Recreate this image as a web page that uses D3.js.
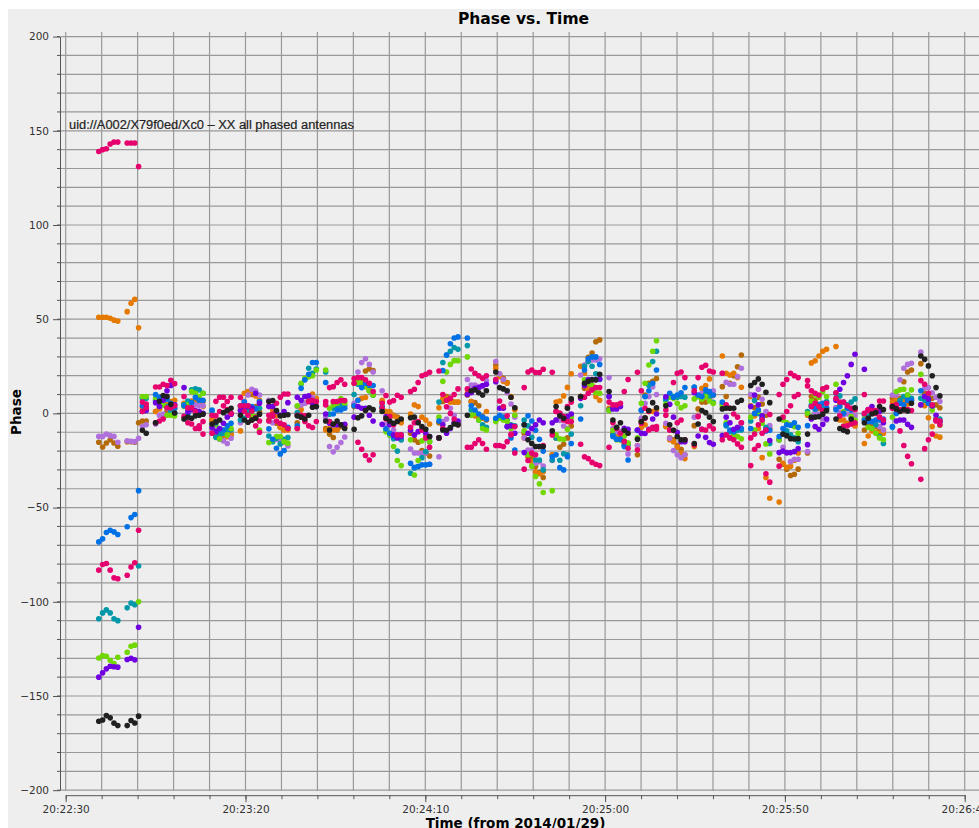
<!DOCTYPE html>
<html>
<head>
<meta charset="utf-8">
<script src="https://cdn.jsdelivr.net/npm/d3@7"></script>
<style>
  body { margin: 0; background: #fff; overflow: hidden; }
  text { font-family: "DejaVu Sans", sans-serif; }
</style>
</head>
<body>
<div id="container"></div>
<script>
/* CONSTANTS AND GLOBALS */
const width = 979, height = 828

// seconds after 20:22:30 for the start of each block of 6 samples
const blockStarts = [9.2, 17.1, 25, 32.9, 40.7, 48.6, 56.5, 64.4, 72.3, 80.2, 88, 95.9, 103.8, 111.7, 119.6,
  127.5, 135.3, 143.2, 151.1, 159, 166.9, 174.8, 182.6, 190.5, 198.4, 206.3, 214.2, 222.1, 229.9, 237.8]
const sampleOffsets = [0, 1.07, 2.11, 3.17, 4.23, 5.29]

const brown = [-15.3,-17.8,-15.7,-14,-15.7,-17.4, -15,-15.1,-15.3,-5,-4,-4, 1,2.7,7,1,2,2.7, 5,4.8,6.3,6.6,5.4,6.3, -3.5,-12.3,-13.5,-11.6,-12.3,-11.4,
  1.8,6.3,1.8,10,3.6,1, -3.5,0,-5.2,-7.4,-8.8,-8.4, -5,-1,5.4,7,8,6.3, -8,-11,-12.8,-8.8,-7,-6, 3.6,16,15,22.5,23.6,22.7,
  6,1,0.6,-1,-2,-3.5, -10.5,-14,-15.3,-19.7,-21,-22.6, -5,6.3,9,8,6,6, 9.8,6.3,5.7,4,-1.7,-3.5, 25.7,20.8,18.6,16.4,8.6,2.7,
  -10.5,-23,-23,-28,-31.4,-34, -22,-13,-18,-16.4,-13,-6.7, 9,13.3,29.8,32,38,39, 2,-11,-12,-13,-15,-16, -22,-4.3,9.8,16,17,18.5,
  -7,-13,-14,-17,-19,-22, -6.5,2.4,6,6,9,9.8, 14.2,9,16,20,24.8,31, 4,3,8.6,5,-1,-8, -24.3,-27,-29.6,-33,-32.3,-29.6,
  -21,9,6.8,2.7,2,2.7, 3,-1,-6.7,-5.2,-5.2,-6, -8.8,-6,-6,-7,-8,-8.8, 8,7,8,16.8,22,23, 26.4,10.7,9,8,4.5,3]

const orange = [51,51,51,50.5,49.5,49, 54,58.5,60.5,45.5,3,3, 1,2.4,5.4,4.5,6.3,7, 5.4,4.5,6.6,5.4,5,3.6, -3.5,-11,-11,-11,-12.3,-11,
  -9.3,10.7,11.6,11.6,9.3,7, 4,2,-1,-7.4,-8.8,-8.8, -8,2,5.4,7,10.3,8, -8.8,-8,-8.8,-8.4,-6,-7, 4.5,7,8,8.4,12.5,9.8,
  7,1,1,-1.3,-2.6,-5, -0.3,4.5,3.6,-2,-3.5,-5.6, 3,7.7,8,6,6,6, 10.7,6.3,-1.3,-2.6,-2.6,1, 24,19.5,17,16,9,2,
  -13,-20,-25.6,-31,-32,-31, -22,6,6.6,9.3,13.8,21, 25,21.3,13.3,12.5,9,7, 2.7,-10.5,-11.4,-14,-16.7,-16, -17,-7.5,-6,1,1,2,
  -6.7,-14,-15,-18,-21,-24, -17.6,-1,13.3,14.8,18.3,10, 30.5,21.3,20.4,21.3,19,13.9, 9,-1.3,-8,-23.5,-34,-45, -47,-26.5,-28.6,-28,-25,-21,
  -1,26.8,27.9,30.5,33,34, 35.5,-3.5,-3.5,-5.6,-5.2,-6.7, -16,-12,-9.3,-10,-10.5,-10.5, 6,8,5.4,6.3,5,7, 4.5,4,-2.3,-7,-12,-12.6]

const lavender = [-12.2,-12.2,-11,-11.8,-12.2,-15.3, -14.6,-14.8,-15,-13.2,-7,-6, -5.6,-1,-0.4,2.7,1,4.5, 4.5,2.7,4,4.5,4,4, -9.7,-8.8,-13.7,-14.6,-16,-13.2,
  -5,6.3,9.8,12.8,12,9.8, 7,-5,-13.7,-14,-15.5,-17.3, 3.6,4.5,5.4,6.3,8.6,6.3, -2,-17.6,-20.4,-18,-15.5,-12.5, 5.4,22,27,29,26,22,
  12,-6,-5.2,-8.8,-11.4,-14, -18.9,-21,-21,-21,-21,-27, -23,-4.3,-3,2.7,-1,-5, 18,15,15,14.2,14.2,17.4, 27.5,21,18,11,5,-2,
  -13,-19.4,-19.4,-26.5,-25.6,-28, -25,-3.5,-3.8,-6.7,-8,-2, 20.4,25.7,27.5,28.4,28.4,29, 19,-8,-9.7,-9.7,-12,-21.5, -17,-2.6,5.4,9,14.2,10,
  -5.2,-13.2,-19.7,-22,-23.5,-22, -2,-1.3,10.7,10.3,7,12, 21.3,16.5,15.5,15.5,19.5,24, 10,9,12.8,7.5,1,-6.5, -14,-18,-21,-25.6,-24.3,-24.3,
  -20.3,-2.6,0.4,-0.3,-2.6,-3.5, 3,0.4,-0.7,-0.3,-0.3,-1.3, -0.7,-2.6,-4.3,-6,-7,-8.8, 9.8,9.8,17.8,24,26,26.6, 32.5,13.3,13.7,11,8.6,6.3]

const teal = [-109,-105.9,-104.3,-105.9,-109,-110, -103.2,-100.7,-101.6,-81,8,8, 7,4.8,4.5,3.6,1,0.2, 4.5,6.6,12.5,13,12.5,10.7, 1,-12.7,-11.4,-10.5,-9,-8.8,
  -3.5,-2.6,1,1.8,2.7,2.7, -12,-15,-13.2,-16.2,-13.7,-12.8, 0.4,15.6,18,24,21.3,23.6, 22,-0.4,2.7,3.6,4,4, 10,15.5,16,14.6,12,9.8,
  3.6,-9,-11.4,-13.4,-20,-14, -31.8,-29,-28.2,-23.5,-20.3,-15, 6,27,31,33,35,34, 36,1.8,1,-3.5,-6,-7.4, -3.5,-1.7,-3,-3.5,-6,-6.6,
  -3.5,-6.6,-12.7,-24.7,-24.7,-30, -24.7,-13,-24.9,-21.4,-22,-11, 4,25,27.5,25,21,18, 1.8,-11.4,-13.7,-14,-16.7,-16.7, -9,1.8,9,15,27.5,33,
  7,9.8,9,8.6,9,8.6, 14,9,8,10,9,5.7, 5,-6.6,-9.7,-10.5,-9,-8.8, -4,6.8,0,-2,-7.4,-16, -14,-11,-9.3,-11.4,-13,-15,
  1,4.5,2.2,3.6,2.7,6.3, 10.7,9.3,6,4.5,6,7.7, -0.3,-1.7,-4.3,-6,-12.3,-16, -7.4,2.7,7,9,9.8,8, 8,7,6,3.6,-3,-3]

const green = [-129.8,-128.5,-128.9,-131,-132.8,-129.4, -126.8,-123.6,-123,-100,9,9, 8,6.8,4.5,-1,-1,-1.3, 3.6,4.5,11.6,10.7,9,10.7, -7.4,-6,-13.5,-8.8,-11.4,-8,
  3.6,1,3.6,-1.3,-1.7,-8.8, -15.5,-14,-12.3,-12.3,-15,-15.8, 4,16,18.6,19.5,20,23, 23,2.7,4.5,5.4,7.9,5.4, 16,16.4,16.4,14.2,12,9.8,
  1.8,-9.7,-11.4,-17.6,-25,-27.7, -14,-32.7,-25,-14.6,-12,-15, -2,17,22,26,28,28, 30,-1,0,-3.5,-8,-8.8, -4.3,-2.6,-3.5,-4.3,-8,-1,
  -9.3,-22,-28,-33.5,-37.4,-42, -41,-11.4,-13.5,-13.7,-8.4,-2, 9,17.8,16,15,11,10.7, 1.5,-9,-14,-14,-12,-15.8, -13,5.4,16,25.7,33,38.6,
  5,8.6,8,5.4,3,4, 7.7,9,7.5,9,6.6,5.4, 4,-5,-13,-11.4,-12.3,-13.5, -2,-8.8,1,-5.2,-16.2,-21.5, -14,-3.5,-5,-6,-7,-10.5,
  0,6.6,9.8,8.6,11.6,9, 15.5,4.5,1,2.7,-1.7,-3.5, -3,-7.4,-8,-10.5,-13,-14, -2,11.6,12.5,12.8,9.8,12.5, 20.8,9,8,1.8,-3,-6.3]

const blue = [-68.2,-66.6,-63.2,-62,-62.9,-64.3, -60.2,-55.3,-53.7,-41,4,3, 10,8.5,7.5,7.5,5.4,2.7, 4,-0.4,5.7,8.5,7,7, 1.8,-5,-9,-8.8,-6.6,-5.2,
  4,6,4,3.6,2.4,6.3, -8.2,-13.7,-18.5,-21.5,-19.7,-7.4, -6.6,13.3,17.8,20.8,27,27, 16.4,-4.3,-0.3,1.8,1.8,2.7, 4,7,13.7,16,15,14.8,
  3,-8.2,-10.5,-12.3,-12.3,-11.4, -26.5,-28.6,-28.2,-27.3,-27.3,-27, -4,22.7,31,37,40,40.6, 40,4,1.8,-0.3,-2,-3, -2.6,-1,-2,-7,-13,-19.4,
  -6,-1.3,-4,-9,-13.7,-20, -23,-22,-28.8,-30,-23,-16, -3,23,29,30,30,26, 9,-12.3,-13.7,-13.7,-17.6,-24.7, -9,1.5,9,12,16,23,
  8,10.7,8.6,9.8,11,13.7, 13.9,9.8,9,12.5,11.6,9.8, 6,-6,-8.8,-9.7,-8,-8, -8,0,1.8,-3,-9.3,-9, -12.3,-8,-6,-6.3,-5,-7.4,
  -6.5,3.6,2.7,4.8,5.4,3, 2,3.6,0,2.7,1.8,2.7, -3.5,-4.3,-4.3,-3.5,-3.5,-3, -7,0,5.4,4.5,7,7, 12,9,5.4,4,-3.5,-4.3]

const violet = [-140,-137.7,-135.6,-134.2,-134.5,-134.7, -130.6,-130,-130.8,-113.5,1,1.6, 5.7,3.6,7,12,14.8,4.5, 13.7,1,2,1.5,1,0, -7.5,-9.7,-8,-5.2,-2,-0.4,
  1.5,2.7,3.6,2.7,10.7,5.4, 3.6,3.6,1,-1,1,5.7, 8.6,7,9,9.3,5.4,3.6, -0.3,-5.2,-6,-6,-6,-5.8, -2,3.6,2.7,2.7,-1,-4,
  -5.8,-1.7,-6,-11.4,-13,-12.3, -9,-11.4,-9.7,-8.8,-10.5,-12.3, -13,-6,-10.5,-8,-5,-4, 10,11,13.3,13.7,14.8,15.5, 16.8,2.7,2.7,-7,-6.6,-10.5,
  -20.8,-10.5,-8,-6,-3.5,-5, -5,-3.5,-1,-2.3,-1.7,-0.3, 8,14.8,18,18,18,18.3, 9,2.4,2.4,3.6,-7.9,-8.4, -8.8,-10.5,-10.7,-8.4,-3,-0.3,
  8.8,4.8,-2,-10,-15,-15, 11,-12,-8.4,-12.7,-15.5,-16.4, -11.8,-2,-5,-8.4,-7.4,-5, 3.6,9.8,4.5,-1.3,-9,-14.4, -20.8,-20,-20.8,-20.8,-20.3,-18.7,
  -16.6,-3,-7,-8.4,-5.8,-3, 7,12.8,16.4,20,26,31.4, 23.4,2,3.6,1,1,-5, 3,-4,-3.5,-3.5,-5.8,-7.4, 4.5,9,7.7,4,-1,-4.3]

const pinkA = [139,140,140.5,143,144,144, 143.5,143.5,143.5,131,6,5, 14,14,15.5,14.8,17.6,15.8, 9,-5,-5.6,-8,-8,-11, -1,6.4,8.6,8.6,6.3,8.6,
  8.4,4,4,1.3,-2.2,-10, -1,-0.5,5.4,8.6,10.3,10.3, -1,-1,-1.3,6.3,7,6.3, 6.3,13.7,14.2,16.4,17.8,15.5, 18.5,19,19,17.8,16,11.6,
  5.4,9.5,6,6.8,9.6,8.6, 11.6,12.8,16.4,20,20.8,21.8, 22.5,10,7,8,10,13, 13,23.6,21.3,20,18.6,20, 18,6.6,3.6,-1.3,-11.4,-7,
  13.7,22,23,21.7,21.7,23.4, 21.8,1,0,-1.7,3.6,6, 9,8.6,10.7,12.5,13.7,13.7, 6,4.5,4.5,5.4,11.6,18, 21.8,12,2.7,1,-7.4,-8.4,
  1.8,-8.8,16.4,21.3,22,19, 12,19,24.5,25.5,22.5,22, 21.3,4.5,2.7,-0.3,-2,-5, -13,-19,-17,-3.5,-8.8,-0.6, 10,15.5,18,21.3,20,19,
  17.4,12,10.7,9.8,13,13.9, 11,6,6,4,2.7,2, 10,2,1,1.5,6.6,6.6, 4,2.4,-9.3,-17,-22.8,-26.7, 17.4,15.5,10.7,4.5,-3.5,-4]

const pinkB = [-83.2,-80.2,-79.7,-83.2,-87.3,-87.8, -85.9,-81.5,-79.3,-62,1,3, -5,-4,-3,3,3,4, -1.5,3,3,1,-6.6,-4.3, -10.5,-1.3,1,4,2,0,
  4,1,-1,-3.5,-6.6,-4, -4,-1.5,-4,-5.2,-6,-8, -8,-2,-4.3,-6.6,-7.5,-4.3, 4.5,-4.3,6.3,6.3,6.8,6.8, 16,-15.3,-19,-22.4,-24.7,-22,
  2.7,-3,-1.7,-6,-11.4,-11.4, -7.4,-5,-4.3,-8.8,-13,-18, -13,-8,3.5,0,-3,-6, -18,-18,-16,-14,-16,-19, -17,-17,-17.6,-15,-11,-21,
  -29.6,-25,-21,-22,-17.6,-17, -11.4,1,0,-3.5,-4.3,-4.3, -16.4,-23,-24,-26,-27,-27.7, -18,-5,-8,-10.5,-15,-18.5, -19.4,-5.2,-2.6,-8.8,-8,-7,
  -1,-8.8,-9,-5,-3.5,-14, -16.7,-1.7,-8.4,-8.8,-6.6,-8.2, -14,-11.4,-13,-14,-16.2,-18, -27.7,-11,-6,-10.5,-32,-36.5, -28,-2,1,4,9,10,
  14.6,3.6,5.4,3.6,1.5,5.4, 8,-1.3,-7,-6.6,-5.6,-5, 0,1.5,1.5,0,-2,-3.5, 2.7,4.5,2,2,2,1.5, -35,-18.7,-14,-11,-4,-6]

const black = [-163.4,-162.7,-160.4,-161.6,-164.4,-165.7, -165.7,-163,-164.3,-160.7,-9,-10.5, -5,6.4,9.5,9,4.8,0.2, -3,-2,-2.6,-1.3,-1,-0.4, -5.6,-4.5,-3.5,0.4,1.5,2.7,
  -1,-3.5,-4.7,-3.5,-2.6,-0.4, 6.3,6.8,1.5,-1.3,-1,-0.7, -1.3,-2,-3,-1,3.3,3.6, -4,-8.8,-5.6,-4,-6,-8, -8.4,-2.3,-1.3,1.5,3,2,
  1,-2.6,-4,-5.2,-4.3,-3, -2.3,-2,-5,-7,-8.4,-12.3, -13,-8.8,-9,-7.5,-5.6,-6, -1,12,12.5,11,9.8,12, 22,13.7,13,12,8.6,3,
  -6,-14,-16,-17.6,-17.6,-17.6, -9.3,3.6,-1.3,-2.6,2.7,7.7, 9,16,17,17.8,17.8,20.8, 11.6,-3.5,-7.4,-5,-9,-10.5, -13.7,-4.3,-2.3,1.5,5.7,3,
  4,-6,-9,-12.3,-14,-14, -16,-5.6,1.5,0.4,-2,-4.3, 2.4,2.7,2.7,2.7,6,7, 14.8,16.4,18.3,15.5,11.2,5.7, -3,-11,-11.8,-13.4,-13.6,-13.4,
  -11,-2,-2,-1.7,-0.4,1.5, -3,-8,-9,-9.7,-3,3, -5,-2.6,-0.3,0.5,3.6,2, 3.6,2.4,1,2,1.3,5.4, 30.5,28.7,25.2,20,13.7,9.3]

// draw order, last one ends up on top
const seriesValues = [brown, orange, lavender, teal, green, blue, violet, pinkA, pinkB, black]
const seriesColors = ["#b46a08", "#e67a00", "#b070dc", "#0098a8", "#70d800", "#0070e6", "#7000e0", "#e6006e", "#e6006e", "#202020"]

const annotation = "uid://A002/X79f0ed/Xc0 \u2013 XX all phased antennas"

/* SCALES */
const startTime = new Date(2014, 0, 29, 20, 22, 30)
const toDate = s => new Date(+startTime + s * 1000)
const xScale = d3.scaleTime()
  .domain([startTime, toDate(250)])
  .range([65.7, 964.7])
const yScale = d3.scaleLinear()
  .domain([-200, 200])
  .range([790.2, 36.6])

const xMinor = d3.range(0, 251, 10).map(toDate)
const xMajor = d3.range(0, 251, 50).map(toDate)
const yMinor = d3.range(-200, 201, 10)
const yMajor = d3.range(-200, 201, 50)

const samples = blockStarts.flatMap(b => sampleOffsets.map(o => b + o))

/* CREATE SVG ELEMENT */
const svg = d3.select("#container")
  .append("svg")
  .attr("width", width)
  .attr("height", height)
  .style("display", "block")

svg.append("rect")
  .attr("x", 8).attr("y", 9)
  .attr("width", width - 8).attr("height", height - 9)
  .attr("fill", "#eeeeee")

/* GRID */
svg.append("g").selectAll("line")
  .data(yMinor)
  .join("line")
  .attr("x1", 60.5).attr("x2", width)
  .attr("y1", d => yScale(d)).attr("y2", d => yScale(d))
  .attr("stroke", "#999999")
  .attr("stroke-width", 1.2)

svg.append("g").selectAll("line")
  .data(xMinor)
  .join("line")
  .attr("x1", d => xScale(d)).attr("x2", d => xScale(d))
  .attr("y1", 32).attr("y2", 791)
  .attr("stroke", "#999999")
  .attr("stroke-width", 1.2)

/* AXES */
const xAxis = d3.axisBottom(xScale)
  .tickValues(xMajor)
  .tickSize(7)
  .tickSizeOuter(0)
  .tickPadding(3)
  .tickFormat(d3.timeFormat("%H:%M:%S"))
const xAxisGroup = svg.append("g")
  .attr("transform", "translate(0, 795.2)")
  .call(xAxis)

xAxisGroup.append("g").selectAll("line")
  .data(xMinor)
  .join("line")
  .attr("x1", d => xScale(d) + 0.5).attr("x2", d => xScale(d) + 0.5)
  .attr("y1", 0).attr("y2", 4)
  .attr("stroke", "#555")

const yAxis = d3.axisLeft(yScale)
  .tickValues(yMajor)
  .tickSize(7)
  .tickSizeOuter(0)
  .tickPadding(4)
const yAxisGroup = svg.append("g")
  .attr("transform", "translate(60, 0)")
  .call(yAxis)

yAxisGroup.append("g").selectAll("line")
  .data(yMinor)
  .join("line")
  .attr("x1", -3).attr("x2", 0)
  .attr("y1", d => yScale(d)).attr("y2", d => yScale(d))
  .attr("stroke", "#555")

svg.selectAll(".domain, .tick line").attr("stroke", "#555")
svg.selectAll(".tick text")
  .attr("fill", "#333")
  .style("font-size", "10.5px")
  .style("font-family", "'DejaVu Sans'")

/* POINTS */
seriesValues.forEach((values, i) => {
  svg.append("g")
    .selectAll("circle")
    .data(values)
    .join("circle")
    .attr("cx", (d, j) => xScale(toDate(samples[j])))
    .attr("cy", d => yScale(d))
    .attr("r", 2.8)
    .attr("fill", seriesColors[i])
})

/* TEXT */
svg.append("text")
  .text("Phase vs. Time")
  .attr("x", 523.5).attr("y", 24)
  .attr("text-anchor", "middle")
  .style("font-size", "15.5px")
  .style("font-weight", "bold")

svg.append("text")
  .text("Phase")
  .attr("transform", "translate(20.5, 412) rotate(-90)")
  .attr("text-anchor", "middle")
  .style("font-size", "13.5px")
  .style("font-weight", "bold")

svg.append("text")
  .text("Time (from 2014/01/29)")
  .attr("x", 515.5).attr("y", 827.5)
  .attr("text-anchor", "middle")
  .style("font-size", "13.5px")
  .style("font-weight", "bold")

svg.append("text")
  .text(annotation)
  .attr("x", 69).attr("y", 129)
  .attr("fill", "#222")
  .attr("stroke", "#222")
  .attr("stroke-width", 0.2)
  .style("font-family", "'Liberation Sans'")
  .style("font-size", "12.85px")
</script>
</body>
</html>
